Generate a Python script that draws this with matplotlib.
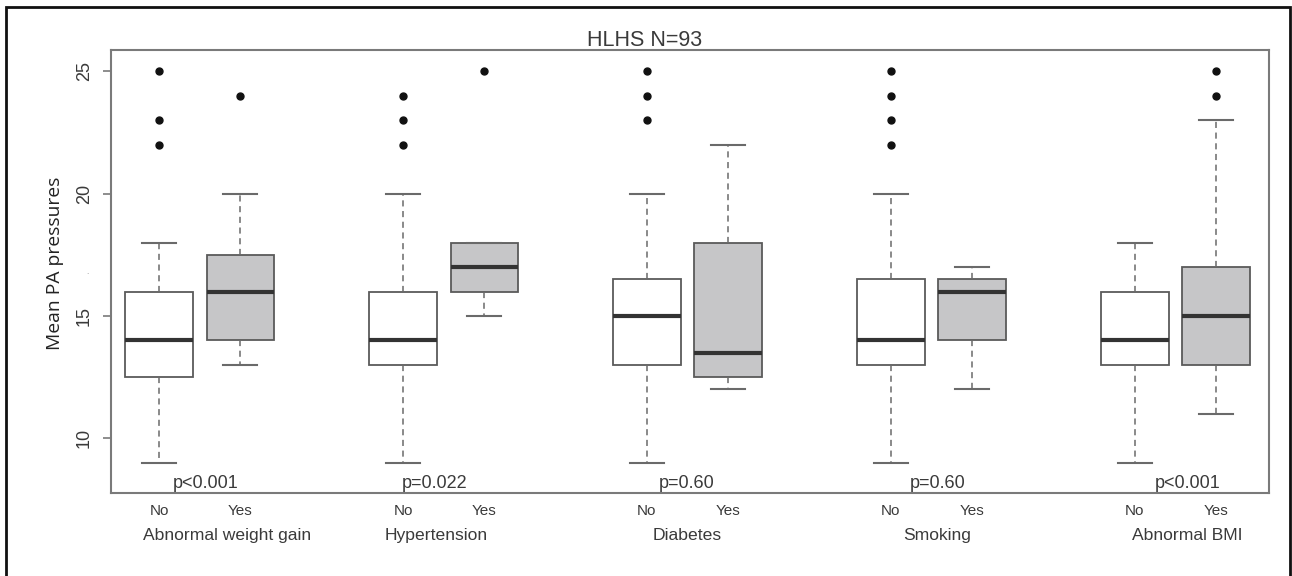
import matplotlib
matplotlib.use("Agg")
import matplotlib.pyplot as plt
import matplotlib.transforms as mtransforms
from matplotlib.patches import Rectangle

# ===== Data =====
groups = ["Abnormal weight gain", "Hypertension", "Diabetes", "Smoking", "Abnormal BMI"]
levels = ["No", "Yes"]
p_values = ["p<0.001", "p=0.022", "p=0.60", "p=0.60", "p<0.001"]

# five-number summaries per box, order: No/Yes for each group
whisker_low = [9, 13, 9, 15, 9, 12, 9, 12, 9, 11]
q1 = [12.5, 14, 13, 16, 13, 12.5, 13, 14, 13, 13]
medians = [14, 16, 14, 17, 15, 13.5, 14, 16, 14, 15]
q3 = [16, 17.5, 16, 18, 16.5, 18, 16.5, 16.5, 16, 17]
whisker_high = [18, 20, 20, 18, 20, 22, 20, 17, 18, 23]
outliers = [
    [22, 23, 25], [24],
    [22, 23, 24], [25],
    [23, 24, 25], [],
    [22, 23, 24, 25], [],
    [], [24, 25],
]

# ===== Layout =====
positions = [1, 2, 4, 5, 7, 8, 10, 11, 13, 14]
group_label_x = [1.84, 4.41, 7.49, 10.57, 13.64]
p_label_x = [1.17, 3.99, 7.15, 10.23, 13.25]
fills = ["white", "#c6c6c8"] * 5

GREY = "#7a7a7a"
TEXT = "#3a3a3a"

plt.rcParams["font.family"] = ["Liberation Sans", "DejaVu Sans"]

fig = plt.figure(figsize=(12.92, 5.76), dpi=100)
ax = fig.add_axes([111 / 1292, 83 / 576, 1158 / 1292, 443 / 576])

stats = []
for i in range(len(positions)):
    stats.append({
        "whislo": whisker_low[i], "q1": q1[i], "med": medians[i],
        "q3": q3[i], "whishi": whisker_high[i], "fliers": outliers[i],
    })

bp = ax.bxp(stats, positions=positions, widths=0.83, patch_artist=True,
            showfliers=True, manage_ticks=False,
            boxprops=dict(edgecolor="#5a5a5a", linewidth=1.3),
            medianprops=dict(color="#333333", linewidth=3.0, solid_capstyle="butt"),
            whiskerprops=dict(color="#6a6a6a", linewidth=1.1, linestyle=(0, (4, 3))),
            capprops=dict(color="#6a6a6a", linewidth=1.5),
            flierprops=dict(marker="o", markersize=5, markerfacecolor="#111111",
                            markeredgecolor="#111111"))
for box, c in zip(bp["boxes"], fills):
    box.set_facecolor(c)
for cap in bp["caps"]:
    xs = cap.get_xdata()
    mid = (xs[0] + xs[1]) / 2
    cap.set_xdata([mid - 0.21, mid + 0.21])

ax.set_xlim(0.41, 14.65)
ax.set_ylim(7.765, 25.87)

# ===== Axes styling =====
for s in ax.spines.values():
    s.set_color(GREY)
    s.set_linewidth(1.5)

ax.set_yticks([10, 15, 20, 25])
ax.set_yticklabels(["10", "15", "20", "25"], rotation=90, va="center",
                   fontsize=13, color=TEXT)
ax.tick_params(axis="y", length=6, width=1.2, color=GREY, pad=7)

ax.set_xticks(positions)
ax.set_xticklabels(levels * 5, fontsize=11, color=TEXT)
ax.tick_params(axis="x", length=0, pad=8)

trans = mtransforms.blended_transform_factory(ax.transData, ax.transAxes)
for gx, name in zip(group_label_x, groups):
    ax.text(gx, -0.097, name, transform=trans, ha="center", va="center",
            fontsize=12.6, color=TEXT)

for px, p in zip(p_label_x, p_values):
    ax.text(px, 7.97, p, ha="left", va="baseline", fontsize=13, color=TEXT)

ax.text(0.461, 1.009, "HLHS N=93", transform=ax.transAxes, ha="center",
        va="baseline", fontsize=15.5, color=TEXT)

fig.text(55 / 1292, 0.543, "Mean PA pressures", rotation=90, ha="center",
         va="center", fontsize=13.9, color="#222222", family=["Open Sans", "DejaVu Sans"])
fig.text(87 / 1292, (576 - 272) / 576, ".", fontsize=6, color="#888888",
         ha="center", va="center")

# outer frame around the whole figure
fig.add_artist(Rectangle((6 / 1292, -0.05), 1284 / 1292, 1.05 - 7 / 576,
                         transform=fig.transFigure, fill=False,
                         edgecolor="#111111", linewidth=2))

fig.savefig("out.png", dpi=100, facecolor="white")
